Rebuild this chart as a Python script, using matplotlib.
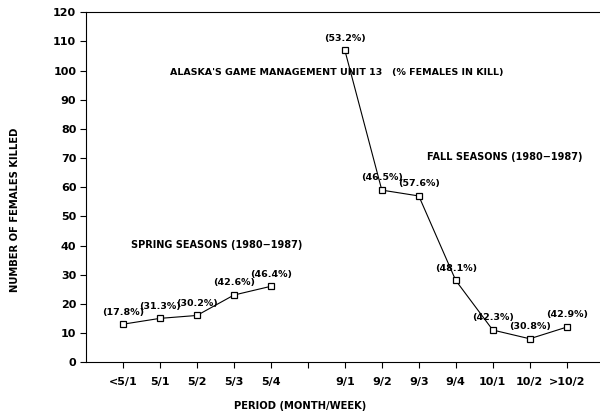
import matplotlib
matplotlib.use("Agg")
import matplotlib.pyplot as plt

font = {'family': 'DejaVu Sans', 'size': 8, 'weight': 'bold'}
matplotlib.rc('font', **font)

# data
spring_periods = ['<5/1', '5/1', '5/2', '5/3', '5/4']
spring_killed = [13, 15, 16, 23, 26]
spring_pct = ['(17.8%)', '(31.3%)', '(30.2%)', '(42.6%)', '(46.4%)']

fall_periods = ['9/1', '9/2', '9/3', '9/4', '10/1', '10/2', '>10/2']
fall_killed = [107, 59, 57, 28, 11, 8, 12]
fall_pct = ['(53.2%)', '(46.5%)', '(57.6%)', '(48.1%)', '(42.3%)', '(30.8%)', '(42.9%)']

# x slots: spring 1-5, one empty slot, then fall
spring_x = list(range(1, len(spring_periods) + 1))
fall_x = list(range(len(spring_periods) + 2, len(spring_periods) + 2 + len(fall_periods)))

fig = plt.figure(figsize=(6, 4.11), dpi=100)
ax = fig.add_axes([0.1433, 0.119, 0.8567, 0.851])

for xs, ys, pcts in [(spring_x, spring_killed, spring_pct), (fall_x, fall_killed, fall_pct)]:
    ax.plot(xs, ys, color='black', lw=0.8, marker='s', markersize=5,
            markerfacecolor='white', markeredgecolor='black', markeredgewidth=0.9)
    for x, y, p in zip(xs, ys, pcts):
        ax.annotate(p, (x, y), xytext=(0, 5.5), textcoords='offset points',
                    ha='center', va='bottom', fontsize=6.8)

ax.set_xlim(0, 13.9)
ax.set_ylim(0, 120)
ax.set_yticks(range(0, 121, 10))
ax.set_xticks(spring_x + [len(spring_periods) + 1] + fall_x)
ax.set_xticklabels(spring_periods + [''] + fall_periods)
ax.tick_params(direction='out', length=4, width=0.8, labelsize=8, pad=3)
ax.tick_params(axis='x', pad=7)

ax.spines['right'].set_visible(False)
for s in ['left', 'bottom', 'top']:
    ax.spines[s].set_linewidth(0.8)

ax.text(2.27, 99.5, "ALASKA'S GAME MANAGEMENT UNIT 13   (% FEMALES IN KILL)", fontsize=6.8, va='center')
ax.text(9.22, 70.3, "FALL SEASONS (1980\u22121987)", fontsize=7, va='center')
ax.text(1.22, 40.2, "SPRING SEASONS (1980\u22121987)", fontsize=7, va='center')

fig.text(0.025, 0.49, "NUMBER OF FEMALES KILLED", rotation=90, ha='center', va='center', fontsize=7.2)
fig.text(0.5, 0.013, "PERIOD (MONTH/WEEK)", ha='center', va='center', fontsize=7.2)

fig.savefig("out.png", dpi=100)
